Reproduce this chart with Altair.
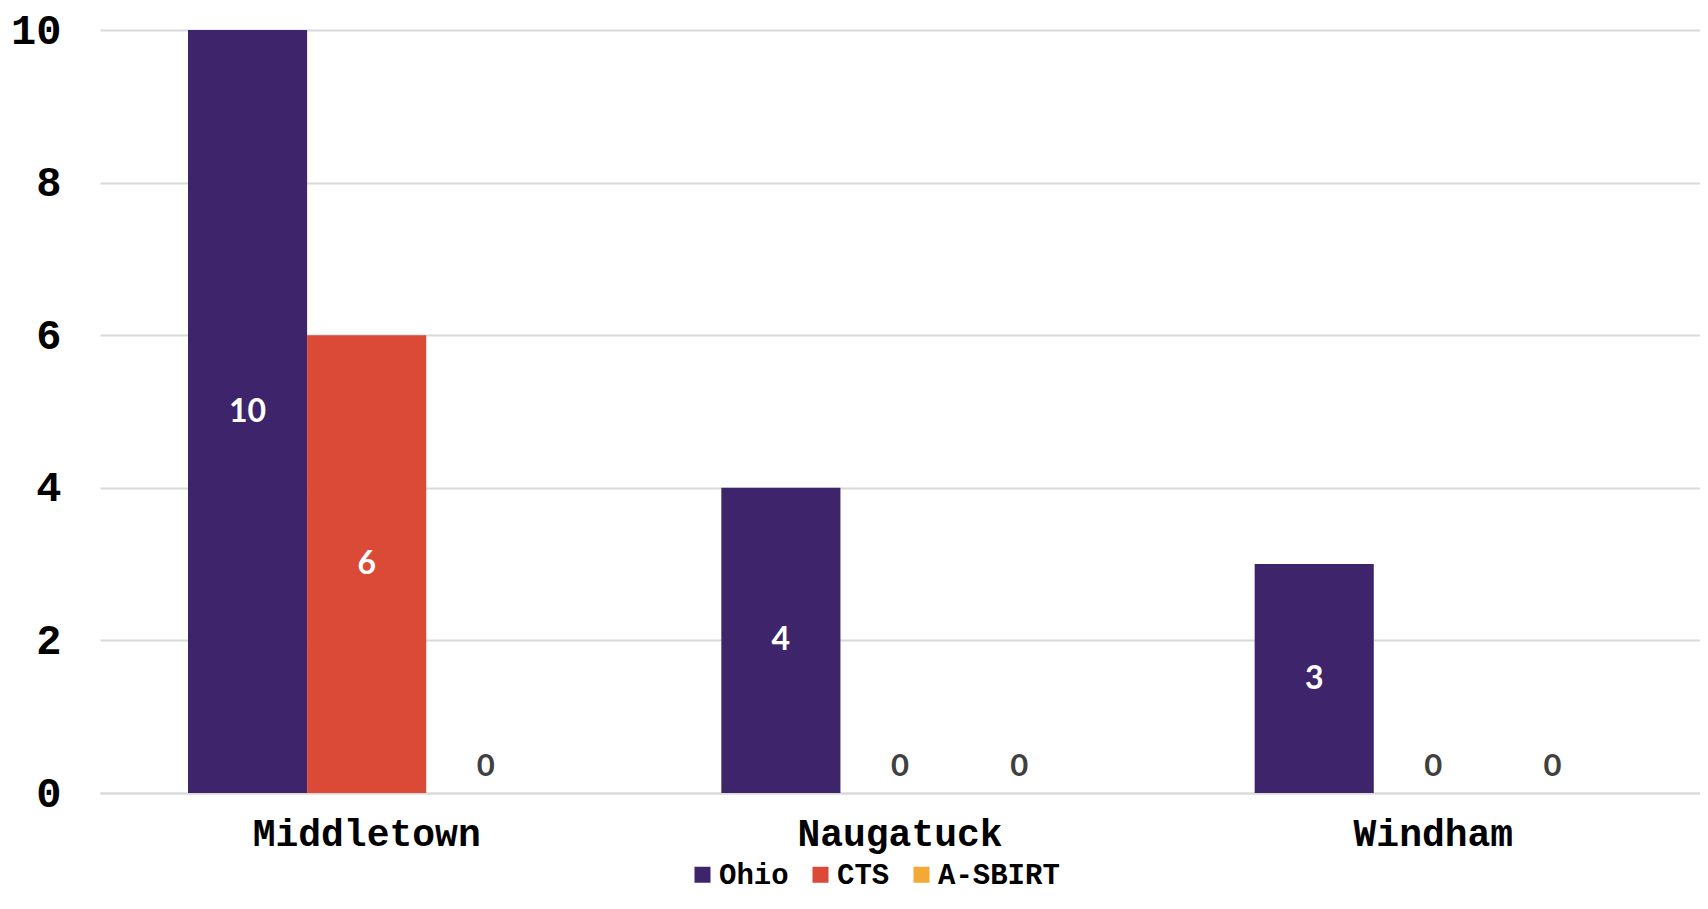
import altair as alt
import pandas as pd

sites = ["Middletown", "Naugatuck", "Windham"]
programs = ["Ohio", "CTS", "A-SBIRT"]
ohio = [10, 4, 3]
cts = [6, 0, 0]
asbirt = [0, 0, 0]
colors = ["#3e246a", "#db4a36", "#f4a836"]
y_ticks = [0, 2, 4, 6, 8, 10]

rows = []
for i, s in enumerate(sites):
    for p, vals in zip(programs, [ohio, cts, asbirt]):
        rows.append({"site": s, "program": p, "value": vals[i]})
df = pd.DataFrame(rows)

MONO = "Liberation Mono"
LABELF = "Lato"

x = alt.X(
    "site:N", sort=sites,
    scale=alt.Scale(paddingInner=0.33, paddingOuter=0.165),
    axis=alt.Axis(title=None, labelAngle=0, labelFont=MONO, labelFontWeight="bold",
                  labelFontSize=38, labelColor="black", labelPadding=22, ticks=False,
                  labelLimit=0, domainColor="#d9d9d9", domainWidth=2),
)
xoff = alt.XOffset("program:N", sort=programs, scale=alt.Scale(paddingInner=0, paddingOuter=0))
yscale = alt.Scale(domain=[0, 10], nice=False)

bars = alt.Chart(df).mark_bar().encode(
    x=x,
    xOffset=xoff,
    y=alt.Y("value:Q", scale=yscale,
            axis=alt.Axis(title=None, values=y_ticks, format="d", labelFont=MONO,
                          labelFontWeight="bold", labelFontSize=42, labelColor="black",
                          labelPadding=39, labelLimit=0, ticks=False, domain=False,
                          gridColor="#d9d9d9", gridWidth=2)),
    color=alt.Color("program:N", sort=programs,
                    scale=alt.Scale(domain=programs, range=colors),
                    legend=alt.Legend(title=None, orient="none", direction="horizontal",
                                      legendX=588, legendY=830, symbolType="square",
                                      symbolSize=256, symbolStrokeWidth=0, labelFont=MONO,
                                      labelFontWeight="bold", labelFontSize=29,
                                      labelColor="black", columnPadding=17, labelOffset=2,
                                      labelLimit=0, padding=0)),
)

inside = alt.Chart(df).transform_filter("datum.value > 0").transform_calculate(
    mid="datum.value / 2"
).mark_text(color="white", font=LABELF, fontWeight="bold", fontSize=32, baseline="middle").encode(
    x=x, xOffset=xoff, y=alt.Y("mid:Q", scale=yscale), text=alt.Text("value:Q", format="d")
)

zeros = alt.Chart(df).transform_filter("datum.value == 0").mark_text(
    color="#404040", font=LABELF, fontWeight="bold", fontSize=31, baseline="middle", dy=-26
).encode(
    x=x, xOffset=xoff, y=alt.Y("value:Q", scale=yscale), text=alt.Text("value:Q", format="d")
)

chart = alt.layer(bars, inside, zeros).properties(
    width=1600, height=763,
    autosize=alt.AutoSizeParams(type="none"),
    padding={"left": 92, "top": 22, "right": 0, "bottom": 104},
    background="white",
).configure_view(stroke=None)

chart.save("out.html", embed_options={"renderer": "svg", "actions": False})
